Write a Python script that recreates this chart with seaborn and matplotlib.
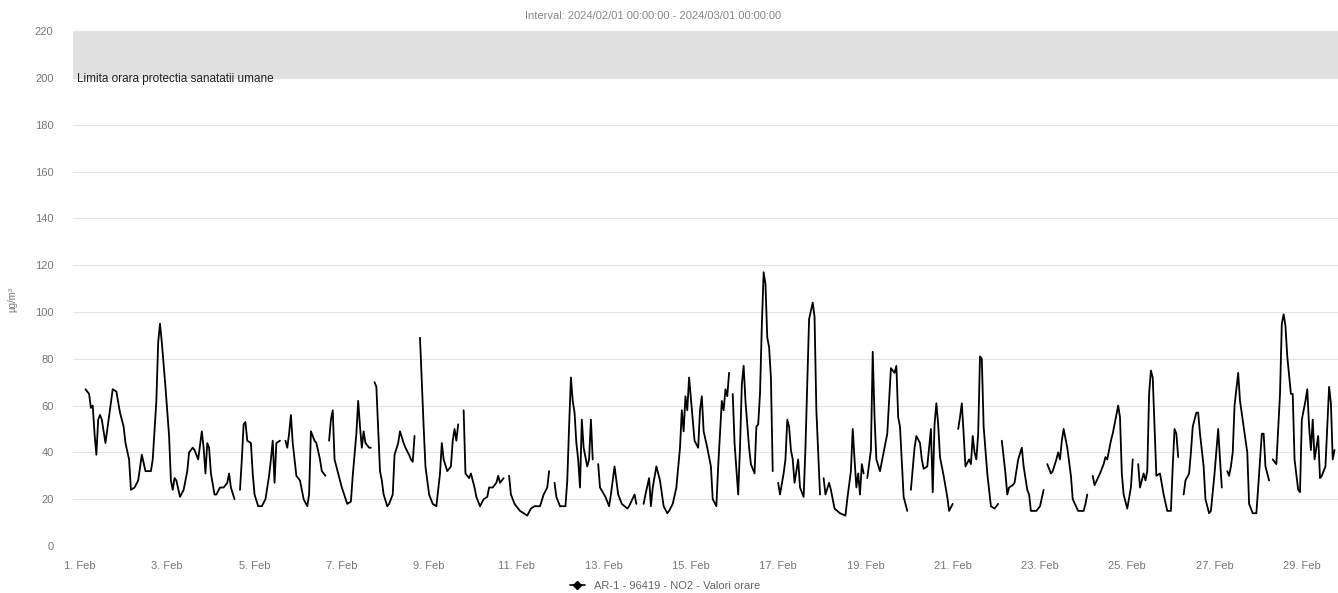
import numpy as np
import pandas as pd
import seaborn as sns
import matplotlib.pyplot as plt
from matplotlib.lines import Line2D

# Hourly NO2 readings, February 2024 (hours since 2024-02-01 00:00)
hours = [
    3, 5, 6, 7, 8, 9, 10, 11, 12, 14, 18, 20, 22, 24, 25, 27, 28, 30, 32, 34, 36, 39, 40, 42, 43, 44, 45, 47, 49, 50, 51, 52, 53, 55, 57, 59, 60, 62, 63, 65, 67, 68, 69, 70, 71, 72, 74, 75, 77, 79, 81, 82, 83, 85,
    88, 89, 90, 91, 92, 94, 95, 96, 98, 100, 102, 104, 105, 106, 107, 108, 110,
    113, 114, 115, 116, 117, 118, 119, 121, 123, 125, 126, 127, 129, 130, 132, 133, 135,
    137, 138, 139, 140, 142, 144, 147, 149, 150, 152, 153, 154, 155, 156, 157, 159, 160,
    162, 163, 165, 166, 167, 169, 170, 172, 173, 175, 176, 178, 179, 181, 182, 183, 184,
    187, 189, 190, 192, 194, 196, 198, 199, 200, 202, 204, 205, 206, 207, 208,
    211, 212, 214, 215, 217, 218, 220, 222, 224, 225, 227, 229, 230, 231, 233,
    236, 237, 239, 242, 246, 248, 250, 253, 255, 257, 258,
    261, 262, 264, 267, 268, 269, 270, 271, 272, 273, 274, 275, 276, 277, 279, 280, 281, 282,
    285, 286, 289, 291, 292, 294, 296, 298, 301, 302, 305, 306,
    310, 311, 313, 314, 315, 317, 319, 321, 323, 324, 326, 328, 330, 331, 332, 333, 334, 335, 337, 338, 340, 341, 342, 343, 345, 346, 347, 348, 350, 351, 353, 354, 355, 356, 357,
    359, 360, 362, 363, 364, 365, 366, 368, 369, 371, 372, 373, 374, 375, 376, 377, 378, 379, 380, 381,
    384, 385, 387, 388, 389, 390, 391, 392, 393, 395, 396, 398, 399, 401, 403, 404, 405, 407,
    409, 410, 412, 413, 415, 418, 421, 422, 424, 425, 426, 427, 428, 429, 430, 431,
    433, 435, 436, 437, 438, 440, 442, 444, 445, 446, 448, 449, 450, 451, 453, 455,
    457, 459, 460, 462, 463, 464, 466, 467, 468, 469, 470, 471, 472, 473, 475, 477, 478, 480,
    483, 484, 485, 486, 487, 489, 490, 491, 492, 493, 494, 495, 496, 497, 499, 501, 503, 505,
    507, 509, 510, 511, 513, 514, 516, 518, 519, 521, 522, 523, 526, 528, 530,
    532, 534, 535, 537, 538, 539, 540, 541, 543, 545, 546, 549, 552, 553, 554,
    557, 558, 561, 563, 564, 565, 567, 568, 570, 571, 572, 573, 574, 576, 578, 579,
    582, 583, 585, 586, 587, 588, 589, 590, 591, 592, 594, 596, 598, 600, 601, 602, 603, 604,
    607, 608, 610, 611, 612, 614, 615, 616, 618, 619, 621, 622, 624, 626, 627, 628,
    631, 632, 633, 634, 635, 637, 638, 640, 642, 643, 645, 647, 648, 650, 651, 652, 654,
    656, 658, 660, 661, 662, 663, 664, 666, 667, 668, 670, 671, 672, 674, 675, 676, 677, 678, 679, 681, 682, 683, 685, 687, 688, 689, 690,
]
no2 = [
    67, 65, 59, 60, 48, 39, 54, 56, 54, 44, 67, 66, 57, 51, 44, 37, 24, 25, 28, 39, 32, 32, 37, 62, 87, 95, 87, 68, 47, 28, 24, 29, 28, 21, 24, 32, 40, 42, 41, 37, 49, 42, 31, 44, 42, 31, 22, 22, 25, 25, 27, 31, 25, 20,
    24, 37, 52, 53, 45, 44, 31, 22, 17, 17, 20, 30, 37, 45, 27, 44, 45,
    45, 42, 48, 56, 44, 37, 30, 28, 20, 17, 22, 49, 45, 44, 37, 32, 30,
    45, 54, 58, 37, 31, 25, 18, 19, 30, 48, 62, 51, 42, 49, 44, 42, 42,
    70, 68, 32, 28, 22, 17, 18, 22, 39, 44, 49, 44, 42, 39, 37, 36, 47,
    89, 51, 34, 22, 18, 17, 31, 44, 37, 32, 34, 45, 50, 45, 52,
    58, 31, 29, 31, 25, 21, 17, 20, 21, 25, 25, 27, 30, 27, 29,
    30, 22, 18, 15, 13, 16, 17, 17, 22, 25, 32,
    27, 21, 17, 17, 28, 51, 72, 62, 57, 44, 37, 25, 54, 42, 34, 37, 54, 37,
    35, 25, 21, 17, 22, 34, 22, 18, 16, 17, 22, 18,
    18, 22, 29, 17, 25, 34, 28, 17, 14, 15, 18, 25, 42, 58, 49, 64, 58, 72, 54, 45, 42, 58, 64, 49, 42, 38, 34, 20, 17, 34, 62, 58, 67, 64, 74,
    65, 44, 22, 42, 69, 77, 62, 42, 35, 31, 51, 52, 65, 94, 117, 112, 89, 85, 72, 32,
    27, 22, 31, 37, 54, 51, 41, 37, 27, 37, 25, 21, 42, 97, 104, 98, 58, 22,
    29, 22, 27, 24, 16, 14, 13, 20, 32, 50, 37, 25, 31, 22, 35, 31,
    29, 41, 83, 55, 37, 32, 40, 48, 62, 76, 74, 77, 55, 51, 21, 15,
    24, 42, 47, 44, 37, 33, 34, 42, 50, 23, 52, 61, 52, 38, 30, 21, 15, 18,
    50, 55, 61, 48, 34, 37, 35, 47, 40, 37, 48, 81, 80, 51, 31, 17, 16, 18,
    45, 31, 22, 25, 26, 27, 37, 42, 34, 24, 22, 15, 15, 17, 24,
    35, 31, 32, 37, 40, 37, 45, 50, 42, 30, 20, 15, 15, 18, 22,
    30, 26, 31, 35, 38, 37, 45, 48, 56, 60, 55, 31, 22, 16, 25, 37,
    35, 25, 31, 28, 32, 65, 75, 72, 51, 30, 31, 22, 15, 15, 34, 50, 48, 38,
    22, 28, 31, 40, 51, 57, 57, 48, 34, 20, 14, 15, 31, 50, 37, 25,
    32, 30, 34, 40, 60, 74, 62, 51, 40, 18, 14, 14, 25, 48, 48, 34, 28,
    37, 35, 65, 95, 99, 94, 81, 65, 65, 37, 24, 23, 54, 62, 67, 51, 41, 54, 37, 47, 29, 30, 34, 68, 61, 37, 41,
]
# line breaks (missing hours) after these hours
gap_after = [85, 110, 135, 160, 184, 208, 233, 258, 282, 306, 357, 381, 407,
             431, 455, 480, 505, 530, 554, 579, 604, 628, 654]

y_ticks = list(range(0, 221, 20))
tick_days = list(range(1, 30, 2))
limit_low, limit_high = 200, 220

start = pd.Timestamp("2024-02-01 00:00")
df = pd.DataFrame({"hour": hours, "no2": no2})
df["time"] = start + pd.to_timedelta(df["hour"], unit="h")
df["segment"] = np.searchsorted(gap_after, df["hour"], side="left")

sns.set_style("white")
plt.rcParams["font.family"] = ["Liberation Sans", "DejaVu Sans"]

fig = plt.figure(figsize=(13.38, 5.93), dpi=100)
ax = fig.add_axes([73 / 1338, 47 / 593, 1 - 73 / 1338, 514.8 / 593])

# health protection limit band
ax.axhspan(limit_low, limit_high, color="#e0e0e0", zorder=0, lw=0)
ax.text(0.003, 199.5, "Limita orara protectia sanatatii umane",
        transform=ax.get_yaxis_transform(), ha="left", va="center",
        fontsize=8.5, color="#222222")

sns.lineplot(data=df, x="time", y="no2", units="segment", estimator=None,
             color="black", linewidth=1.3, ax=ax, legend=False)

ax.set_xlim(start - pd.Timedelta(hours=3.85), start + pd.Timedelta(hours=691.9))
ax.set_ylim(0, 220)
ax.set_yticks(y_ticks)
ax.set_yticklabels([str(v) for v in y_ticks])
xt = [pd.Timestamp(2024, 2, d) for d in tick_days]
ax.set_xticks(xt)
ax.set_xticklabels([f"{d}. Feb" for d in tick_days])
ax.tick_params(axis="both", length=0, labelsize=8, colors="#777777")
ax.tick_params(axis="y", pad=14)
ax.tick_params(axis="x", pad=11)
ax.set_xlabel("")
ax.set_ylabel("")
ax.yaxis.grid(True, color="#e4e4e4", linewidth=0.8)
ax.xaxis.grid(False)
sns.despine(ax=ax, left=True, bottom=True)

fig.text(653 / 1338, 1 - 16 / 593,
         "Interval: 2024/02/01 00:00:00 - 2024/03/01 00:00:00",
         ha="center", va="center", fontsize=8, color="#888888")
fig.text(12 / 1338, 1 - 300 / 593, "µg/m³", rotation=90,
         ha="center", va="center", fontsize=7, color="#777777")

handle = Line2D([0], [0], color="black", marker="D", markersize=4, linewidth=1.2)
fig.legend(handles=[handle], labels=["AR-1 - 96419 - NO2 - Valori orare"],
           loc="center", bbox_to_anchor=(665 / 1338, 1 - 586 / 593),
           frameon=False, fontsize=8, labelcolor="#666666", handlelength=1.4)

fig.savefig("out.png", dpi=100)
